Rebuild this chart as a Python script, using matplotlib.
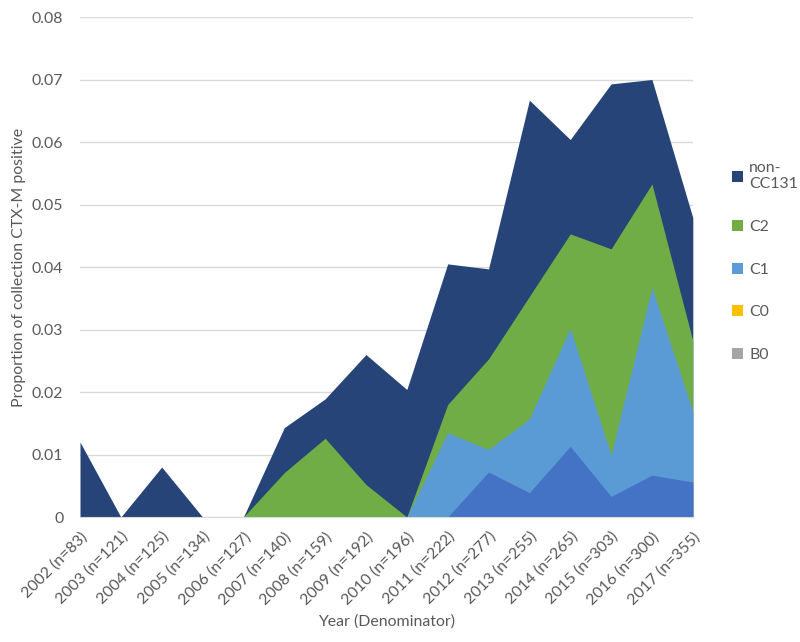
import numpy as np
import matplotlib.pyplot as plt

plt.rcParams['font.family'] = ['Lato', 'DejaVu Sans']

years = ['2002 (n=83)', '2003 (n=121)', '2004 (n=125)', '2005 (n=134)', '2006 (n=127)',
         '2007 (n=140)', '2008 (n=159)', '2009 (n=192)', '2010 (n=196)', '2011 (n=222)',
         '2012 (n=277)', '2013 (n=255)', '2014 (n=265)', '2015 (n=303)', '2016 (n=300)',
         '2017 (n=355)']

# area heights (overlapping area chart, back to front)
non_cc131 = [0.012, 0, 0.008, 0, 0, 0.0143, 0.0189, 0.026, 0.0204, 0.0405,
             0.0397, 0.0667, 0.0604, 0.0693, 0.070, 0.0479]
c2 = [0, 0, 0, 0, 0, 0.0071, 0.0126, 0.0052, 0, 0.018,
      0.0253, 0.0353, 0.0453, 0.0429, 0.0533, 0.0282]
c1 = [0, 0, 0, 0, 0, 0, 0, 0, 0, 0.0135,
      0.0108, 0.0157, 0.0302, 0.0099, 0.0367, 0.0169]
c0 = [0] * 16
b0 = [0] * 16
other = [0, 0, 0, 0, 0, 0, 0, 0, 0, 0,
         0.0072, 0.0039, 0.0113, 0.0033, 0.0067, 0.0056]

x = np.arange(len(years))
grey = '#595959'
fs = 11.4

fig = plt.figure(figsize=(8, 6.42), dpi=100)
ax = fig.add_axes([0.1, 0.1947, 0.766, 0.7788])

series = [(non_cc131, '#264478', 'non-\nCC131'), (c2, '#70AD47', 'C2'),
          (c1, '#5B9BD5', 'C1'), (c0, '#FFC000', 'C0'), (b0, '#A5A5A5', 'B0')]
handles = []
for vals, col, lab in series:
    h = ax.fill_between(x, 0, vals, color=col, lw=0, label=lab, zorder=2)
    handles.append(h)
ax.fill_between(x, 0, other, color='#4472C4', lw=0, zorder=2)

ax.set_xlim(0, 15)
ax.set_ylim(0, 0.08)
ax.set_yticks(np.arange(0, 0.081, 0.01))
ax.set_yticklabels(['0'] + ['%.2f' % v for v in np.arange(0.01, 0.081, 0.01)])
ax.yaxis.grid(True, color='#D9D9D9', lw=1, zorder=0)
ax.set_axisbelow(True)
for s in ['top', 'right', 'left']:
    ax.spines[s].set_visible(False)
ax.spines['bottom'].set_color('#D9D9D9')
ax.spines['bottom'].set_zorder(3)

ax.set_xticks(x)
ax.set_xticklabels(years, rotation=45, ha='right', rotation_mode='anchor')
ax.tick_params(axis='x', length=0, pad=9, labelsize=fs, labelcolor=grey)
ax.tick_params(axis='y', length=0, pad=12, labelsize=fs, labelcolor=grey)

ax.set_xlabel('Year (Denominator)', fontsize=fs, color=grey, labelpad=5)
ax.set_ylabel('Proportion of collection CTX-M positive', fontsize=fs, color=grey, labelpad=4)

leg = fig.legend(handles=handles, loc='upper left', bbox_to_anchor=(0.897, 0.771),
                 frameon=False, fontsize=fs, labelcolor=grey, handlelength=0.7,
                 handleheight=0.7, handletextpad=0.4, labelspacing=1.8)

fig.savefig('out.png', dpi=100)
